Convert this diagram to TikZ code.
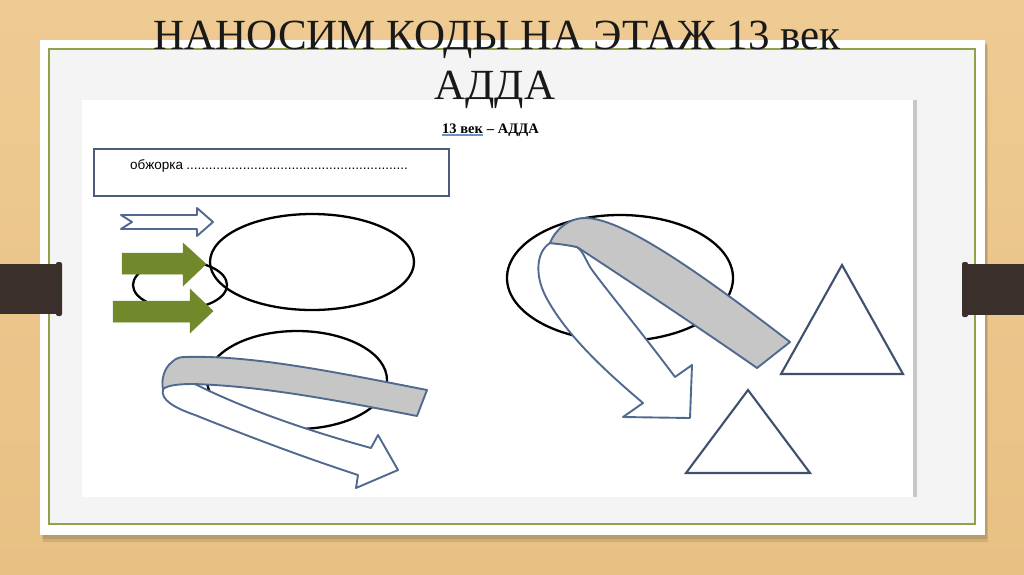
\documentclass[tikz,border=0pt]{standalone}
\usepackage{fontspec}
\setmainfont{Liberation Serif}
\newfontfamily\arialish{Liberation Sans}
\definecolor{wood}{HTML}{E8C084}
\definecolor{woodlight}{HTML}{EECB93}
\definecolor{innergray}{HTML}{F4F4F4}
\definecolor{cardgreen}{HTML}{8FA24C}
\definecolor{barbrown}{HTML}{3A2F2A}
\definecolor{boxblue}{HTML}{4B5C79}
\definecolor{arrowblue}{HTML}{51698F}
\definecolor{trianglecol}{HTML}{3F506F}
\definecolor{olive}{HTML}{71892A}
\definecolor{ribbongray}{HTML}{C6C6C6}
\definecolor{underblue}{HTML}{6C8FC7}
\begin{document}
\begin{tikzpicture}[x=1pt,y=-1pt,
  ellline/.style={draw=black, line width=2.3pt},
  arrowline/.style={draw=arrowblue, line width=1.9pt, line join=round, fill=white},
  ribbonline/.style={draw=arrowblue, line width=1.9pt, line join=round, fill=ribbongray},
  greenarrow/.style={fill=olive, draw=olive, line width=0.5pt, line join=miter},
  triline/.style={draw=trianglecol, line width=2.1pt, line join=miter},
  titlefont/.style={font=\fontsize{43}{50}\selectfont, text=black!90, inner sep=0pt}]
\useasboundingbox (0,0) rectangle (1024,574);
% wood background
\shade[top color=woodlight, bottom color=wood] (0,0) rectangle (1024,574);
% card shadow
\fill[black, opacity=0.10] (43,45) rectangle (988,542);
\fill[black, opacity=0.10] (42,43) rectangle (987,539);
% card
\fill[white] (40,40) rectangle (985,535);
\fill[innergray] (49,49) rectangle (975,524);
\draw[cardgreen, line width=1.3pt] (49,49) rectangle (975,524);
% pasted picture
\fill[white] (82,100) rectangle (914,497);
\fill[black!22] (913,100) rectangle (917,497);
% side bars
\fill[barbrown] (0,264) rectangle (59,314);
\fill[barbrown, rounded corners=2pt] (56,262) rectangle (62,316);
\fill[barbrown] (965,264) rectangle (1024,315);
\fill[barbrown, rounded corners=2pt] (962,262) rectangle (968,317);
% title
\node[titlefont, anchor=base] (title1) at (497,49) {НАНОСИМ КОДЫ НА ЭТАЖ 13 век};
\node[titlefont, anchor=base] (title2) at (495,99) {АДДА};
% heading
\node[anchor=base west, inner sep=0pt, font=\bfseries\fontsize{14.5}{16}\selectfont] (head1) at (442,133) {13 век};
\node[anchor=base west, inner sep=0pt, font=\bfseries\fontsize{14.5}{16}\selectfont] (head2) at (head1.base east) {\ – АДДА};
\draw[underblue, line width=1.2pt] ([yshift=-2pt]head1.base west) -- ([yshift=-2pt]head1.base east);
% box
\draw[boxblue, line width=2.5pt] (94,149) rectangle (449,196);
\node[anchor=base west, inner sep=0pt, font=\arialish\fontsize{13.5}{15}\selectfont] (obzh) at (130,169)
  {\makebox[281pt][l]{обжорка\leaders\hbox{.}\hfill}};
% outline arrow
\draw[arrowline] (121,215) -- (197,215) -- (197,208) -- (213,222) -- (197,236) -- (197,229) -- (121,229) -- (132,222) -- cycle;
% small + big ellipse
\draw[ellline] (180,285) ellipse [x radius=47pt, y radius=24pt];
\draw[ellline] (312,262) ellipse [x radius=102pt, y radius=48pt];
% green arrows
\draw[greenarrow] (122,253) -- (183,253) -- (183,243) -- (206,264) -- (183,286) -- (183,274) -- (122,274) -- cycle;
\draw[greenarrow] (113,301) -- (190,301) -- (190,289) -- (213,311) -- (190,333) -- (190,322) -- (113,322) -- cycle;
% lower-left ellipse with curved arrow
\draw[ellline] (297,380) ellipse [x radius=90pt, y radius=49pt];
\draw[arrowline] (163,389) .. controls (160,400) and (175,408) .. (195,415)
  .. controls (250,437) and (300,456) .. (358,475) -- (356,488) -- (398,470) -- (378,435) -- (371,448)
  .. controls (320,434) and (250,412) .. (193,383) -- (178,378) -- cycle;
\draw[ribbonline] (172,362) .. controls (176,358) and (180,357) .. (185,357)
  .. controls (250,355) and (330,371) .. (427,390) -- (417,416)
  .. controls (330,399) and (260,386) .. (193,384)
  .. controls (180,384) and (168,385) .. (163,389)
  .. controls (161,380) and (164,368) .. (172,362) -- cycle;
% right ellipse with curved arrow
\draw[ellline] (620,278) ellipse [x radius=113pt, y radius=63pt];
\draw[arrowline] (550,243) .. controls (536,252) and (535,275) .. (545,295)
  .. controls (565,335) and (610,375) .. (643,403) -- (623,417) -- (690,418) -- (692,365) -- (675,377)
  .. controls (640,330) and (600,282) .. (590,267)
  .. controls (585,258) and (582,250) .. (577,247) -- (563,244) -- cycle;
\draw[ribbonline] (550,243) .. controls (556,228) and (570,218) .. (585,218)
  .. controls (620,218) and (690,265) .. (790,342) -- (757,368)
  .. controls (710,335) and (620,275) .. (577,247)
  .. controls (568,245) and (558,244) .. (550,243) -- cycle;
% triangles
\draw[triline, fill=white] (842,265) -- (903,374) -- (781,374) -- cycle;
\draw[triline, fill=white] (748,390) -- (810,473) -- (686,473) -- cycle;
\end{tikzpicture}
\end{document}
